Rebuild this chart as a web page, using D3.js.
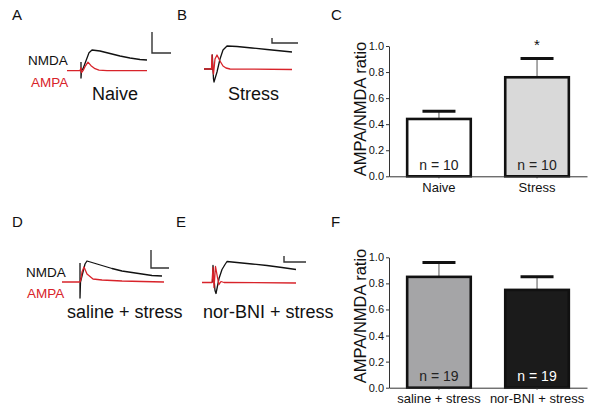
<!DOCTYPE html>
<html>
<head>
<meta charset="utf-8">
<script src="https://cdn.jsdelivr.net/npm/d3@7"></script>
<style>
  html, body { margin: 0; padding: 0; background: #fff; }
  svg { display: block; font-family: "Liberation Sans", Arial, Helvetica, sans-serif; }
</style>
</head>
<body>
<svg id="chart" width="600" height="410"></svg>
<script>
// ---------------- DATA ----------------
// Bar panel C
const groupsC = ["Naive", "Stress"];
const meansC = [0.44, 0.76];
const semC = [0.06, 0.145];
const nC = [10, 10];
const sigC = ["", "*"];
// Bar panel F
const groupsF = ["saline + stress", "nor-BNI + stress"];
const meansF = [0.85, 0.75];
const semF = [0.11, 0.10];
const nF = [19, 19];
const yTicks = [0.0, 0.2, 0.4, 0.6, 0.8, 1.0];

// Example traces (time in ms, current in arbitrary pA units, upward = positive)
const aNmdaT = [14, 14, 14.5, 16, 19, 22, 25, 33, 43, 53, 63, 73, 80];
const aNmdaV = [8.7, -7.3, 0, 2, 10, 18, 20.7, 19.7, 17.2, 14.7, 12.7, 11.2, 10.7];
const aAmpaT = [0, 13, 14, 14.5, 16, 18, 21, 24, 28, 32, 40, 80];
const aAmpaV = [0, 0, 3, -2, 0, 4, 8.5, 5, 2, 0.5, 0, 0];

const bNmdaT = [0, 8, 8.3, 9.5, 10, 13, 16, 19, 23, 33, 48, 63, 78, 88];
const bNmdaV = [0, 0, 14, -10, -13, -3, 10, 19, 23, 22.5, 21, 19.5, 18, 17];
const bAmpaT = [0, 7.5, 8, 9, 9.5, 11, 13, 16, 19, 22, 26, 88];
const bAmpaV = [0, 0, 14, -2, -5, 10, 14, 8, 3, 1, 0, -0.5];

const dNmdaT = [18, 18, 18.5, 21, 23, 25, 30, 40, 50, 60, 70, 80, 90, 100];
const dNmdaV = [19, -16, 0, 10, 18, 21, 19.5, 16.5, 13.5, 11, 9.5, 8, 6.5, 6];
const dAmpaT = [0, 18, 19, 20, 22, 25, 31, 40, 60, 80, 102];
const dAmpaV = [0, 0, 3, 10, 15, 8, 3, 2, 1, 0.5, 0];

const eNmdaT = [10.5, 11, 13, 14, 17, 20, 23, 25, 35, 50, 65, 80, 94];
const eNmdaV = [0, 17, -8, -11, 4, 13, 18, 21, 20, 18.5, 17, 15, 13];
const eAmpaT = [0, 10, 11, 12, 13.5, 15.5, 17, 19, 22, 94];
const eAmpaV = [0, 0, 15, -5, 16, 5, -2, 1, 0, -0.5];

// Scale bar lengths [ms, pA] (in trace units)
const scaleA = [19, 21];
const scaleB = [26, 5];
const scaleD = [18, 18];
const scaleE = [22, 6];

// ---------------- STYLE ----------------
const RED = "#d8232a";
const INK = "#111";
const fillC = ["#ffffff", "#d9d9d9"];
const fillF = ["#a5a5a7", "#1b1b1b"];
const nColorF = ["#222", "#ffffff"];

const svg = d3.select("#chart");

// Panel letters
const letters = [["A", 12, 20], ["B", 177, 20], ["C", 331, 20], ["D", 12, 227], ["E", 176, 227], ["F", 331, 227]];
svg.selectAll("text.letter").data(letters).join("text")
  .attr("class", "letter")
  .attr("x", d => d[0] === d[0] ? d[1] : 0).attr("y", d => d[2])
  .attr("font-size", 15).attr("fill", INK)
  .text(d => d[0]);

// ---------------- TRACES ----------------
function zip(t, v) { return t.map((d, i) => [d, v[i]]); }

function drawTrace(cfg) {
  const g = svg.append("g");
  const x = d3.scaleLinear().domain([0, 100]).range([cfg.x0, cfg.x0 + 100]);
  const y = d3.scaleLinear().domain([-50, 50]).range([cfg.base + 50, cfg.base - 50]);
  const line = d3.line().x(d => x(d[0])).y(d => y(d[1]));
  g.append("path").attr("d", line(zip(cfg.nT, cfg.nV)))
    .attr("fill", "none").attr("stroke", INK).attr("stroke-width", 1.3).attr("stroke-linejoin", "round");
  g.append("path").attr("d", line(zip(cfg.aT, cfg.aV)))
    .attr("fill", "none").attr("stroke", RED).attr("stroke-width", 1.3).attr("stroke-linejoin", "round");
  // scale bar
  const sx = cfg.sbX, sy = cfg.sbY;
  const lenX = x(cfg.sb[0]) - x(0);
  const lenY = y(0) - y(cfg.sb[1]);
  g.append("path").attr("d", `M${sx},${sy - lenY}V${sy}H${sx + lenX}`)
    .attr("fill", "none").attr("stroke", "#333").attr("stroke-width", 1.4);
  if (cfg.labels) {
    g.append("text").attr("x", cfg.lblX).attr("y", cfg.lblY1).attr("font-size", 13.5).attr("fill", INK).text("NMDA");
    g.append("text").attr("x", cfg.lblX + cfg.ampaDx).attr("y", cfg.lblY2).attr("font-size", 13.5).attr("fill", RED).text("AMPA");
  }
  g.append("text").attr("x", cfg.titleX).attr("y", cfg.titleY).attr("font-size", 18).attr("fill", INK).text(cfg.title);
}

drawTrace({ x0: 67, base: 70.7, nT: aNmdaT, nV: aNmdaV, aT: aAmpaT, aV: aAmpaV, sb: scaleA, sbX: 152, sbY: 53,
  labels: true, lblX: 28, ampaDx: 3, lblY1: 65, lblY2: 87, title: "Naive", titleX: 92, titleY: 100 });
drawTrace({ x0: 204, base: 69, nT: bNmdaT, nV: bNmdaV, aT: bAmpaT, aV: bAmpaV, sb: scaleB, sbX: 272, sbY: 43,
  labels: false, title: "Stress", titleX: 228, titleY: 100 });
drawTrace({ x0: 62, base: 282, nT: dNmdaT, nV: dNmdaV, aT: dAmpaT, aV: dAmpaV, sb: scaleD, sbX: 151, sbY: 268,
  labels: true, lblX: 26, ampaDx: 1, lblY1: 277, lblY2: 298, title: "saline + stress", titleX: 67, titleY: 318 });
drawTrace({ x0: 202, base: 282.5, nT: eNmdaT, nV: eNmdaV, aT: eAmpaT, aV: eAmpaV, sb: scaleE, sbX: 284, sbY: 262,
  labels: false, title: "nor-BNI + stress", titleX: 203, titleY: 318 });

// ---------------- BAR CHARTS ----------------
function drawBars(cfg) {
  const g = svg.append("g");
  const x = d3.scaleBand().domain(cfg.groups).range([389, 587]).paddingInner(0.327).paddingOuter(0.173);
  const y = d3.scaleLinear().domain([0, 1]).range([cfg.y0, cfg.y1]);
  const rows = cfg.groups.map((gname, i) => ({ g: gname, m: cfg.means[i], s: cfg.sem[i], n: cfg.n[i], i }));

  // error bars (behind bars)
  g.selectAll("line.stem").data(rows).join("line").attr("class", "stem")
    .attr("x1", d => x(d.g) + x.bandwidth() / 2).attr("x2", d => x(d.g) + x.bandwidth() / 2)
    .attr("y1", d => y(d.m)).attr("y2", d => y(d.m + d.s))
    .attr("stroke", "#555").attr("stroke-width", 1);
  g.selectAll("line.cap").data(rows).join("line").attr("class", "cap")
    .attr("x1", d => x(d.g) + x.bandwidth() / 2 - 16.5).attr("x2", d => x(d.g) + x.bandwidth() / 2 + 16.5)
    .attr("y1", d => y(d.m + d.s)).attr("y2", d => y(d.m + d.s))
    .attr("stroke", INK).attr("stroke-width", 3);

  g.selectAll("rect.bar").data(rows).join("rect").attr("class", "bar")
    .attr("x", d => x(d.g) + 1.2).attr("width", x.bandwidth() - 2.4)
    .attr("y", d => y(d.m)).attr("height", d => y(0) - y(d.m))
    .attr("fill", d => cfg.fills[d.i]).attr("stroke", INK).attr("stroke-width", 2.6);

  g.selectAll("text.n").data(rows).join("text").attr("class", "n")
    .attr("x", d => x(d.g) + x.bandwidth() / 2).attr("y", y(0) - 6.5)
    .attr("text-anchor", "middle").attr("font-size", 14)
    .attr("fill", d => cfg.nColors[d.i]).text(d => "n = " + d.n);

  if (cfg.sig) {
    g.selectAll("text.sig").data(rows).join("text").attr("class", "sig")
      .attr("x", d => x(d.g) + x.bandwidth() / 2).attr("y", d => y(d.m + d.s) - 8)
      .attr("text-anchor", "middle").attr("font-size", 15).attr("fill", INK)
      .text(d => cfg.sig[d.i]);
  }

  // axes
  const ya = g.append("g").attr("transform", "translate(389,0)")
    .call(d3.axisLeft(y).tickValues(yTicks).tickFormat(d3.format(".1f")).tickSize(3).tickSizeOuter(0).tickPadding(2));
  ya.selectAll("text").attr("font-size", 11).attr("fill", INK).attr("font-family", "Liberation Sans, Arial, sans-serif");
  ya.selectAll("line, path").attr("stroke", "#333");

  const xa = g.append("g").attr("transform", `translate(0,${y(0)})`)
    .call(d3.axisBottom(x).tickSize(2).tickSizeOuter(0).tickPadding(4));
  xa.selectAll("text").attr("font-size", 13).attr("fill", INK).attr("font-family", "Liberation Sans, Arial, sans-serif");
  xa.selectAll("line, path").attr("stroke", "#333");

  g.append("text").attr("transform", `translate(366,${cfg.labelY}) rotate(-90)`)
    .attr("text-anchor", "middle").attr("font-size", 16.5).attr("fill", INK)
    .text("AMPA/NMDA ratio");
}

drawBars({ groups: groupsC, means: meansC, sem: semC, n: nC, sig: sigC, fills: fillC, nColors: ["#222", "#222"],
  y0: 176.3, y1: 46, labelY: 109 });
drawBars({ groups: groupsF, means: meansF, sem: semF, n: nF, sig: null, fills: fillF, nColors: nColorF,
  y0: 387.7, y1: 257.3, labelY: 316 });
</script>
</body>
</html>
